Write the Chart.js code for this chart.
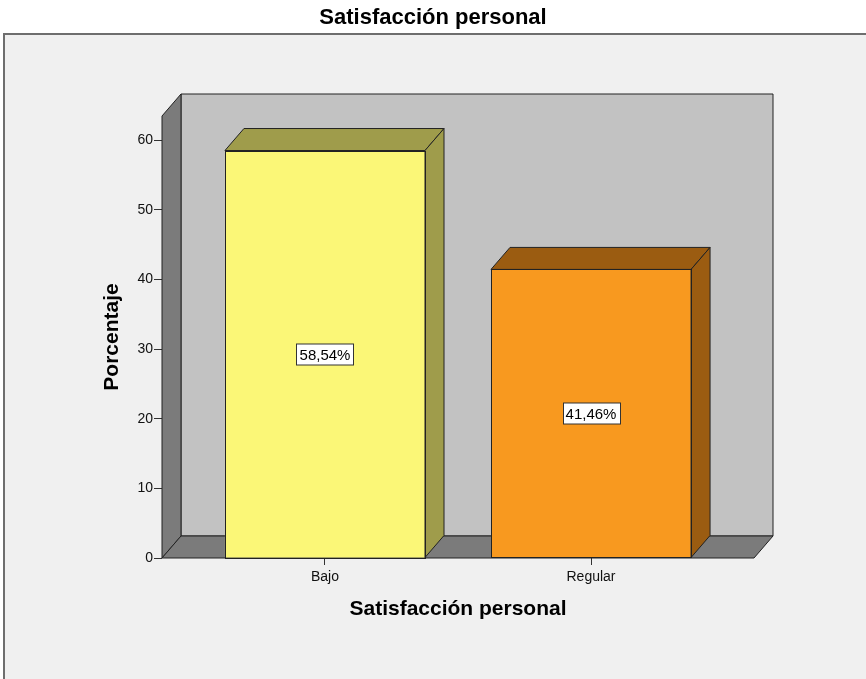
<!DOCTYPE html>
<html>
<head>
<meta charset="utf-8">
<script src="https://cdn.jsdelivr.net/npm/chart.js@4"></script>
<style>
  html, body { margin: 0; padding: 0; background: #fff; }
  #wrap { width: 866px; height: 679px; }
</style>
</head>
<body>
<div id="wrap"><canvas id="satisfChart" width="866" height="679"></canvas></div>
<script>
// Satisfacción personal - porcentaje por nivel
const categories = ['Bajo', 'Regular'];
const percents = [58.54, 41.46];
const yTicks = [0, 10, 20, 30, 40, 50, 60];

const frontColors = ['#fbf777', '#f8991f'];
const darkColors = ['#9f9c4b', '#9b5c11'];

const FONT = '"Liberation Sans", Arial, sans-serif';
const DEPTH_X = 19;   // pseudo 3D depth
const DEPTH_Y = 22;
const LINE = '#222';

function poly(ctx, pts, fill) {
    ctx.beginPath();
    ctx.moveTo(pts[0][0], pts[0][1]);
    for (let i = 1; i < pts.length; i++) ctx.lineTo(pts[i][0], pts[i][1]);
    ctx.closePath();
    ctx.fillStyle = fill;
    ctx.fill();
    ctx.stroke();
}

// frame, walls and floor, bar tops/sides and value boxes
const box3d = {
    id: 'box3d',
    beforeDraw(chart) {
        const ctx = chart.ctx;
        ctx.save();
        ctx.fillStyle = '#ffffff';
        ctx.fillRect(0, 0, chart.width, chart.height);
        ctx.fillStyle = '#f0f0f0';
        ctx.fillRect(4, 34, chart.width + 10, chart.height + 10);
        ctx.strokeStyle = '#6e6e6e';
        ctx.lineWidth = 2;
        ctx.strokeRect(4, 34, chart.width + 10, chart.height + 10);
        ctx.restore();
    },
    beforeDatasetsDraw(chart) {
        const ctx = chart.ctx;
        const {left, right, top, bottom} = chart.chartArea;
        const dx = DEPTH_X, dy = DEPTH_Y;
        ctx.save();
        ctx.lineWidth = 1;
        ctx.strokeStyle = LINE;
        ctx.lineJoin = 'miter';
        // back wall
        poly(ctx, [[left + dx, top - dy], [right + dx, top - dy], [right + dx, bottom - dy], [left + dx, bottom - dy]], '#c2c2c2');
        // left wall
        poly(ctx, [[left, bottom], [left, top], [left + dx, top - dy], [left + dx, bottom - dy]], '#7b7b7b');
        // floor
        poly(ctx, [[left, bottom], [left + dx, bottom - dy], [right + dx, bottom - dy], [right, bottom]], '#7b7b7b');
        ctx.restore();
    },
    afterDatasetsDraw(chart) {
        const ctx = chart.ctx;
        const dx = DEPTH_X, dy = DEPTH_Y;
        const meta = chart.getDatasetMeta(0);
        ctx.save();
        ctx.lineWidth = 1;
        ctx.strokeStyle = LINE;
        meta.data.forEach((bar, i) => {
            const {x, y, base, width} = bar.getProps(['x', 'y', 'base', 'width'], true);
            const l = x - width / 2, r = x + width / 2;
            // top face
            poly(ctx, [[l, y], [l + dx, y - dy], [r + dx, y - dy], [r, y]], darkColors[i]);
            // right side face
            poly(ctx, [[r, y], [r + dx, y - dy], [r + dx, base - dy], [r, base]], darkColors[i]);
            // front outline
            ctx.strokeRect(Math.round(l) + 0.5, Math.round(y) + 0.5, Math.round(width), Math.round(base - y));

            // value label
            const txt = percents[i].toFixed(2).replace('.', ',') + '%';
            ctx.font = '15px ' + FONT;
            const tw = ctx.measureText(txt).width;
            const cy = Math.round((y + base) / 2) + 0.5;
            const bw = Math.round(tw + 6), bh = 21;
            const bx = Math.round(x - bw / 2) + 0.5, by = Math.round(cy - bh / 2);
            ctx.fillStyle = '#ffffff';
            ctx.fillRect(bx, by, bw, bh);
            ctx.strokeStyle = '#333';
            ctx.strokeRect(bx, by, bw, bh);
            ctx.fillStyle = '#000';
            ctx.textAlign = 'center';
            ctx.textBaseline = 'middle';
            ctx.fillText(txt, x, cy + 1);
            ctx.strokeStyle = LINE;
        });
        ctx.restore();
    }
};

new Chart(document.getElementById('satisfChart'), {
    type: 'bar',
    data: {
        datasets: [{
            label: 'Porcentaje',
            data: percents.map((v, i) => ({x: i, y: v})),
            backgroundColor: frontColors,
            borderColor: LINE,
            borderWidth: 0,
            barPercentage: 0.752,
            categoryPercentage: 1
        }]
    },
    options: {
        responsive: false,
        animation: false,
        layout: { padding: 0 },
        plugins: {
            legend: { display: false },
            tooltip: { enabled: false },
            title: {
                display: true,
                text: 'Satisfacción personal',
                color: '#000',
                font: { family: FONT, size: 22, weight: 'bold' },
                padding: { top: 5, bottom: 84.6 }
            }
        },
        scales: {
            x: {
                type: 'linear',
                min: -0.6126,
                max: 1.6126,
                offset: false,
                afterBuildTicks(scale) { scale.ticks = categories.map((c, i) => ({value: i})); },
                afterFit(scale) { scale.height = 121; },
                grid: { offset: false, drawOnChartArea: false, drawTicks: true, tickLength: 7, color: '#333' },
                border: { display: false },
                ticks: {
                    callback: (v) => categories[v],
                    color: '#111',
                    padding: 4,
                    font: { family: FONT, size: 14 }
                },
                title: {
                    display: true,
                    text: 'Satisfacción personal',
                    color: '#000',
                    font: { family: FONT, size: 21, weight: 'bold' },
                    padding: { top: 0, bottom: 57 }
                }
            },
            y: {
                min: 0,
                max: 63.5,
                bounds: 'data',
                afterBuildTicks(scale) { scale.ticks = yTicks.map(v => ({value: v})); },
                afterFit(scale) { scale.width = 162; },
                grid: { drawOnChartArea: false, drawTicks: true, tickLength: 8, color: '#333' },
                border: { display: false },
                ticks: {
                    color: '#111',
                    padding: 1,
                    font: { family: FONT, size: 14 }
                },
                title: {
                    display: true,
                    text: 'Porcentaje',
                    color: '#000',
                    font: { family: FONT, size: 21, weight: 'bold' },
                    padding: { top: 100, bottom: 0 }
                }
            },
            // empty right-hand axis, keeps room for the depth of the box
            yRight: {
                position: 'right',
                min: 0,
                max: 63.5,
                afterFit(scale) { scale.width = 112; },
                grid: { display: false },
                border: { display: false },
                ticks: { display: false }
            }
        }
    },
    plugins: [box3d]
});
</script>
</body>
</html>
